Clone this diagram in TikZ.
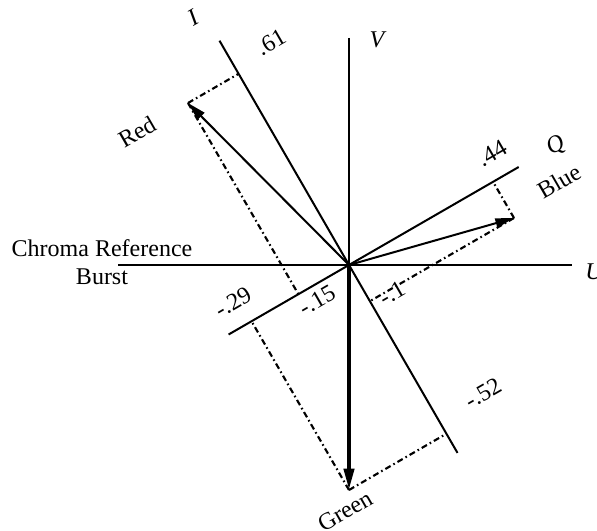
\documentclass[tikz,border=0pt]{standalone}
\usepackage{fontspec}
\setmainfont{Liberation Serif}
\usetikzlibrary{arrows.meta,calc}
\begin{document}
\begin{tikzpicture}[x=0.75pt,y=-0.75pt,
  axis/.style={line width=1.5pt},
  proj/.style={line width=1.6pt, dash pattern=on 4.5pt off 2.4pt on 1.2pt off 2.4pt},
  vec/.style={line width=1.5pt,-{Triangle[length=14pt,width=7pt]}},
  bigvec/.style={line width=3pt,-{Triangle[length=16pt,width=7.5pt]}},
  lab/.style={font=\fontsize{18}{21}\selectfont, inner sep=0pt},
  ilab/.style={font=\fontsize{18}{21}\selectfont\itshape, inner sep=0pt},
  rlab/.style={lab, rotate=30}]
\useasboundingbox (0,0) rectangle (597,531);
% axes
\coordinate (O) at (349,265);
\coordinate (Itop) at (219.5,40.7);
\coordinate (Ibot) at (457.5,452.9);
\coordinate (Qtop) at (518.7,167);
\coordinate (Qbot) at (228.6,334.5);
\coordinate (Uleft) at (118,265);
\coordinate (Uright) at (572,265);
\coordinate (Vtop) at (349,38);
% vector tips
\coordinate (R) at (188,103);
\coordinate (G) at (349,490);
\coordinate (B) at (514,218);
% axes lines
\draw[axis] (Itop) -- (Ibot);
\draw[axis] (Qbot) -- (Qtop);
\draw[axis] (Uleft) -- (Uright);
\draw[axis] (Vtop) -- (O);
% projections
\draw[proj] (R) -- ($(Itop)!(R)!(Ibot)$);
\draw[proj] (R) -- ($(Qbot)!(R)!(Qtop)$);
\draw[proj] (G) -- ($(Itop)!(G)!(Ibot)$);
\draw[proj] (G) -- ($(Qbot)!(G)!(Qtop)$);
\draw[proj] (B) -- ($(Qbot)!(B)!(Qtop)$);
\draw[proj] (B) -- ($(Itop)!(B)!(Ibot)$);
% vectors
\draw[vec] (O) -- (R);
\draw[vec] (O) -- (B);
\draw[bigvec] (O) -- (G);
% labels
\node[ilab, rotate=30] (lI) at (193,18) {I};
\node[rlab] (l61) at (271,42) {.61};
\node[ilab] (lV) at (377,40) {V};
\node[rlab] (lRed) at (137,132) {Red};
\node[rlab] (l44) at (492,153) {.44};
\node[ilab, rotate=30] (lQ) at (556,146) {Q};
\node[rlab] (lBlue) at (559,181) {Blue};
\node[ilab, anchor=west] (lU) at (585,272) {U};
\node[lab, align=center] (lChroma) at (102,262) {Chroma Reference\\Burst};
\node[rlab] (l29) at (233,302) {-.29};
\node[rlab] (l15) at (317,300) {-.15};
\node[rlab] (l1) at (392,293) {-.1};
\node[rlab] (l52) at (483,393) {-.52};
\node[rlab] (lGreen) at (345,511) {Green};
\end{tikzpicture}
\end{document}
